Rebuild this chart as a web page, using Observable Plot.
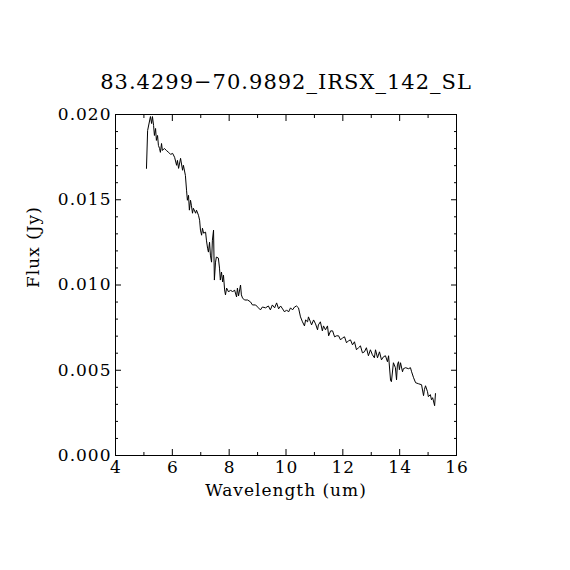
<!DOCTYPE html>
<html>
<head>
<meta charset="utf-8">
<script src="https://cdn.jsdelivr.net/npm/d3@7"></script>
<script src="https://cdn.jsdelivr.net/npm/@observablehq/plot@0.6"></script>
<style>
  html, body { margin: 0; padding: 0; background: #fff; }
  #chart svg { display: block; }
  #chart svg text { letter-spacing: 1px; }
</style>
</head>
<body>
<div id="chart"></div>
<script>
const title = "83.4299\u221270.9892_IRSX_142_SL";
const xLabel = "Wavelength (um)";
const yLabel = "Flux (Jy)";
const xMajorTicks = [4, 6, 8, 10, 12, 14, 16];
const xMinorTicks = [5, 7, 9, 11, 13, 15];
const yMajorTicks = [0, 0.005, 0.010, 0.015, 0.020];
const yMinorTicks = [0.001, 0.002, 0.003, 0.004, 0.006, 0.007, 0.008, 0.009, 0.011, 0.012, 0.013, 0.014, 0.016, 0.017, 0.018, 0.019];

const wavelength = [
  5.09, 5.13, 5.23, 5.27, 5.30, 5.34, 5.37, 5.41, 5.44, 5.48, 5.51, 5.55, 5.58, 5.62, 5.65, 5.72, 5.79, 5.87, 5.94, 6.01,
  6.08, 6.15, 6.18, 6.22, 6.29, 6.36, 6.39, 6.46, 6.50, 6.53, 6.57, 6.60, 6.64, 6.67, 6.71, 6.74, 6.82, 6.85, 6.92, 6.96,
  6.99, 7.03, 7.06, 7.10, 7.17, 7.20, 7.24, 7.27, 7.31, 7.34, 7.38, 7.41, 7.45, 7.48, 7.52, 7.55, 7.62, 7.66, 7.69, 7.73,
  7.77, 7.80, 7.84, 7.87, 7.91, 7.98, 8.05, 8.12, 8.19, 8.26, 8.29, 8.33, 8.40, 8.43, 8.47, 8.54, 8.65, 8.75, 8.82, 8.93,
  9.03, 9.10, 9.17, 9.28, 9.38, 9.45, 9.52, 9.60, 9.67, 9.74, 9.81, 9.88, 9.95, 10.02, 10.09, 10.16, 10.23, 10.30, 10.37, 10.44,
  10.51, 10.58, 10.65, 10.69, 10.76, 10.79, 10.86, 10.90, 10.97, 11.04, 11.11, 11.14, 11.21, 11.28, 11.32, 11.39, 11.46, 11.50, 11.57, 11.64,
  11.71, 11.78, 11.85, 11.92, 11.99, 12.06, 12.13, 12.20, 12.27, 12.34, 12.41, 12.48, 12.55, 12.62, 12.69, 12.76, 12.83, 12.90, 12.97, 13.04,
  13.11, 13.15, 13.22, 13.29, 13.36, 13.43, 13.50, 13.57, 13.61, 13.68, 13.71, 13.78, 13.85, 13.89, 13.92, 13.96, 13.99, 14.03, 14.10, 14.13,
  14.21, 14.31, 14.38, 14.42, 14.49, 14.56, 14.66, 14.77, 14.84, 14.87, 14.91, 14.98, 15.01, 15.08, 15.12, 15.16, 15.23, 15.26
];
const flux = [
  0.01684, 0.01906, 0.01988, 0.01947, 0.01988, 0.01936, 0.01877, 0.01918, 0.01848, 0.01877, 0.01819, 0.01801, 0.01778, 0.01830, 0.01789, 0.01801, 0.01789, 0.01778, 0.01766, 0.01772,
  0.01749, 0.01702, 0.01731, 0.01684, 0.01743, 0.01673, 0.01702, 0.01643, 0.01556, 0.01497, 0.01526, 0.01439, 0.01497, 0.01468, 0.01421, 0.01450, 0.01421, 0.01439, 0.01409, 0.01380,
  0.01322, 0.01292, 0.01333, 0.01304, 0.01310, 0.01263, 0.01216, 0.01193, 0.01251, 0.01175, 0.01134, 0.01263, 0.01322, 0.01029, 0.01134, 0.01164, 0.01158, 0.01099, 0.01029, 0.01076,
  0.01018, 0.01058, 0.00971, 0.00942, 0.00982, 0.00959, 0.00971, 0.00959, 0.00971, 0.00930, 0.00982, 0.00936, 0.01000, 0.00942, 0.00924, 0.00912, 0.00912, 0.00901, 0.00883, 0.00883,
  0.00866, 0.00854, 0.00871, 0.00866, 0.00877, 0.00854, 0.00883, 0.00866, 0.00895, 0.00860, 0.00877, 0.00860, 0.00842, 0.00854, 0.00842, 0.00866, 0.00854, 0.00871, 0.00877, 0.00866,
  0.00813, 0.00784, 0.00760, 0.00795, 0.00784, 0.00813, 0.00784, 0.00766, 0.00795, 0.00772, 0.00737, 0.00766, 0.00784, 0.00731, 0.00760, 0.00737, 0.00760, 0.00702, 0.00731, 0.00731,
  0.00696, 0.00702, 0.00702, 0.00678, 0.00690, 0.00696, 0.00661, 0.00673, 0.00678, 0.00649, 0.00667, 0.00620, 0.00632, 0.00643, 0.00602, 0.00608, 0.00632, 0.00585, 0.00620, 0.00591,
  0.00573, 0.00620, 0.00573, 0.00608, 0.00561, 0.00579, 0.00585, 0.00550, 0.00585, 0.00439, 0.00433, 0.00544, 0.00515, 0.00444, 0.00532, 0.00550, 0.00503, 0.00544, 0.00491, 0.00509,
  0.00515, 0.00509, 0.00515, 0.00491, 0.00456, 0.00427, 0.00421, 0.00415, 0.00351, 0.00386, 0.00409, 0.00374, 0.00345, 0.00357, 0.00327, 0.00339, 0.00292, 0.00363
];

const spectrum = wavelength.map((w, i) => ({wavelength: w, flux: flux[i]}));
const fontFamily = "'DejaVu Serif', serif";
const blank = () => "";

const chart = Plot.plot({
  width: 570,
  height: 570,
  marginLeft: 115,
  marginRight: 114,
  marginTop: 114,
  marginBottom: 115,
  style: {fontFamily, fontSize: "17px", background: "#fff", color: "#000"},
  x: {domain: [4, 16]},
  y: {domain: [0, 0.020]},
  marks: [
    Plot.frame({stroke: "#000", strokeWidth: 1}),
    // inward major/minor ticks on all four sides
    Plot.axisX({anchor: "bottom", ticks: xMajorTicks, tickSize: -6, tickFormat: blank, label: null}),
    Plot.axisX({anchor: "bottom", ticks: xMinorTicks, tickSize: -3, tickFormat: blank, label: null}),
    Plot.axisX({anchor: "top", ticks: xMajorTicks, tickSize: -6, tickFormat: blank, label: null}),
    Plot.axisX({anchor: "top", ticks: xMinorTicks, tickSize: -3, tickFormat: blank, label: null}),
    Plot.axisY({anchor: "left", ticks: yMajorTicks, tickSize: -6, tickFormat: blank, label: null}),
    Plot.axisY({anchor: "left", ticks: yMinorTicks, tickSize: -3, tickFormat: blank, label: null}),
    Plot.axisY({anchor: "right", ticks: yMajorTicks, tickSize: -6, tickFormat: blank, label: null}),
    Plot.axisY({anchor: "right", ticks: yMinorTicks, tickSize: -3, tickFormat: blank, label: null}),
    // tick labels
    Plot.axisX({anchor: "bottom", ticks: xMajorTicks, tickSize: 0, tickPadding: 5, dx: 0.5, tickFormat: d3.format("d"), label: null, fontSize: 17}),
    Plot.axisY({anchor: "left", ticks: yMajorTicks, tickSize: 0, tickPadding: 4, tickFormat: d3.format(".3f"), label: null, fontSize: 17}),
    // spectrum
    Plot.line(spectrum, {x: "wavelength", y: "flux", stroke: "#000", strokeWidth: 1}),
    // axis titles and chart title
    Plot.text([xLabel], {text: d => d, frameAnchor: "bottom", dy: 35, fontSize: 17, lineAnchor: "middle"}),
    Plot.text([yLabel], {text: d => d, frameAnchor: "left", dx: -82, dy: 3, rotate: -90, fontSize: 17, lineAnchor: "middle"}),
    Plot.text([title], {text: d => d, frameAnchor: "top", dy: -32, fontSize: 21, lineAnchor: "middle"})
  ]
});
document.getElementById("chart").append(chart);
</script>
</body>
</html>
